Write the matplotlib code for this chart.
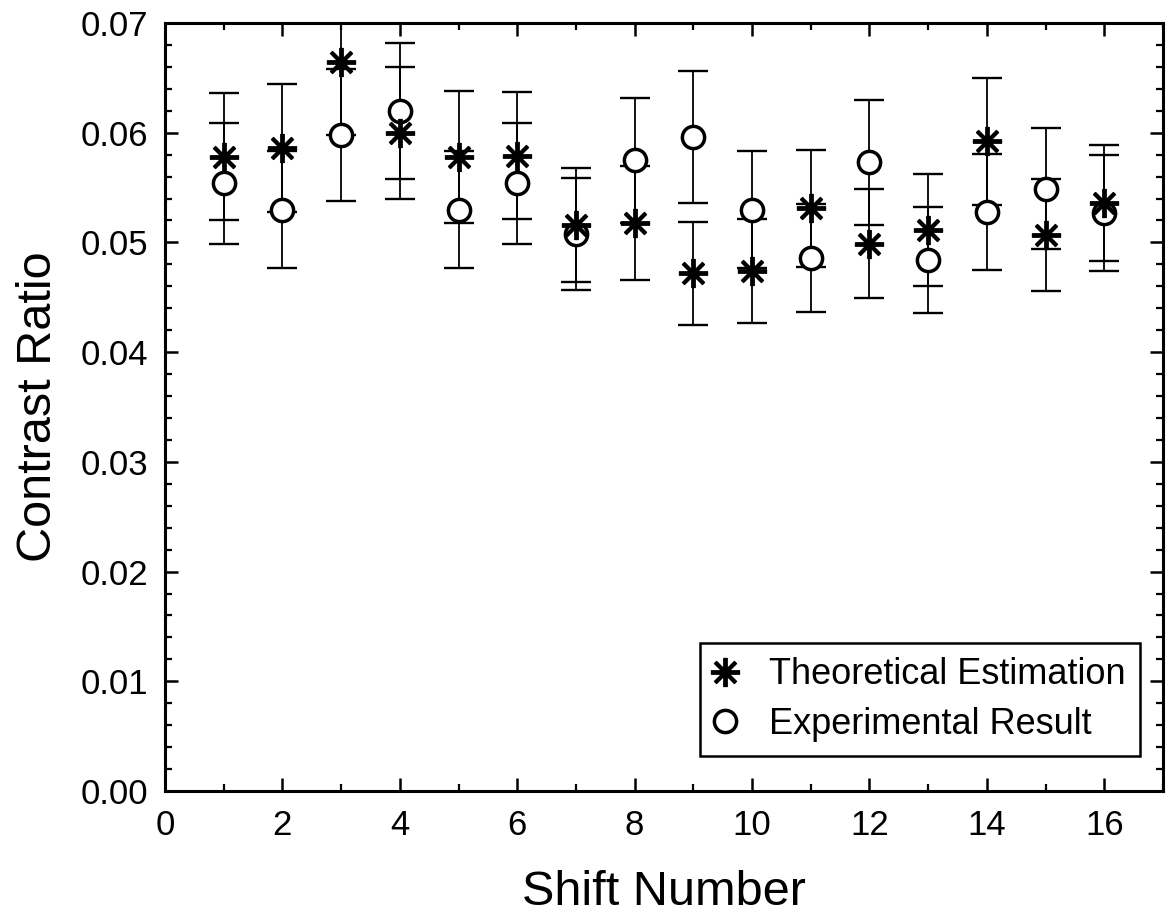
import matplotlib
matplotlib.use('Agg')
import matplotlib.pyplot as plt
from matplotlib.ticker import MultipleLocator, FormatStrFormatter

plt.rcParams['font.family'] = ['Liberation Sans', 'DejaVu Sans']

shift = [1, 2, 3, 4, 5, 6, 7, 8, 9, 10, 11, 12, 13, 14, 15, 16]
theory = [0.0578, 0.0586, 0.0664, 0.0600, 0.0578, 0.0579, 0.0516, 0.0518,
          0.0472, 0.0474, 0.0531, 0.0499, 0.0511, 0.0592, 0.0507, 0.0536]
theory_err = [0.0058, 0.0058, 0.0066, 0.0060, 0.0060, 0.0058, 0.0052, 0.0052,
              0.0047, 0.0047, 0.0053, 0.0050, 0.0051, 0.0058, 0.0051, 0.0053]
experiment = [0.0554, 0.0530, 0.0598, 0.0620, 0.0530, 0.0554, 0.0508, 0.0575,
              0.0596, 0.0530, 0.0486, 0.0573, 0.0484, 0.0528, 0.0549, 0.0527]
experiment_err = [0.0055, 0.0053, 0.0060, 0.0062, 0.0053, 0.0055, 0.0051, 0.0057,
                  0.0060, 0.0053, 0.0049, 0.0057, 0.0048, 0.0053, 0.0055, 0.0053]

x_ticks = [0, 2, 4, 6, 8, 10, 12, 14, 16]
y_ticks = [0.00, 0.01, 0.02, 0.03, 0.04, 0.05, 0.06, 0.07]

fig = plt.figure(figsize=(11.74, 9.15), dpi=100)
W, H = 1174, 915
ax = fig.add_axes([165 / W, 1 - 791 / H, (1163 - 165) / W, (791 - 23) / H])

err_style = dict(fmt='none', ecolor='black', elinewidth=1.3, capsize=11, capthick=1.7, zorder=2)
ax.errorbar(shift, theory, yerr=theory_err, **err_style)
ax.errorbar(shift, experiment, yerr=experiment_err, **err_style)

h_exp, = ax.plot(shift, experiment, linestyle='none', marker='o', markersize=16,
                 markerfacecolor='white', markeredgecolor='black', markeredgewidth=2.5,
                 zorder=3, label='Experimental Result')
h_th, = ax.plot(shift, theory, linestyle='none', marker=(8, 2, 0), markersize=21,
                markeredgecolor='black', markerfacecolor='black', markeredgewidth=2.8,
                zorder=4, label='Theoretical Estimation')

ax.set_xlim(0, 17)
ax.set_ylim(0, 0.07)
ax.set_xticks(x_ticks)
ax.set_yticks(y_ticks)
ax.xaxis.set_minor_locator(MultipleLocator(1))
ax.yaxis.set_minor_locator(MultipleLocator(0.002))
ax.yaxis.set_major_formatter(FormatStrFormatter('%.2f'))

for s in ax.spines.values():
    s.set_linewidth(2.2)

ax.tick_params(which='both', direction='in', top=True, right=True, labelsize=25)
ax.tick_params(which='major', length=9.5, width=1.8)
ax.tick_params(which='minor', length=5, width=1.6)
ax.tick_params(axis='x', which='major', pad=13)
ax.tick_params(axis='y', which='major', pad=12)

ax.set_xlabel('Shift Number', fontsize=35, labelpad=20)
ax.set_ylabel('Contrast Ratio', fontsize=35, labelpad=14)

leg = ax.legend(handles=[h_th, h_exp], loc='upper left',
                bbox_to_anchor=(700 / W, 1 - 643 / H), bbox_transform=fig.transFigure,
                borderaxespad=0, fontsize=26, frameon=True, fancybox=False,
                handlelength=0.6, handletextpad=0.9, borderpad=0.4, labelspacing=0.4,
                edgecolor='black', framealpha=1)
leg.get_frame().set_linewidth(1.8)

fig.savefig('out.png', dpi=100)
